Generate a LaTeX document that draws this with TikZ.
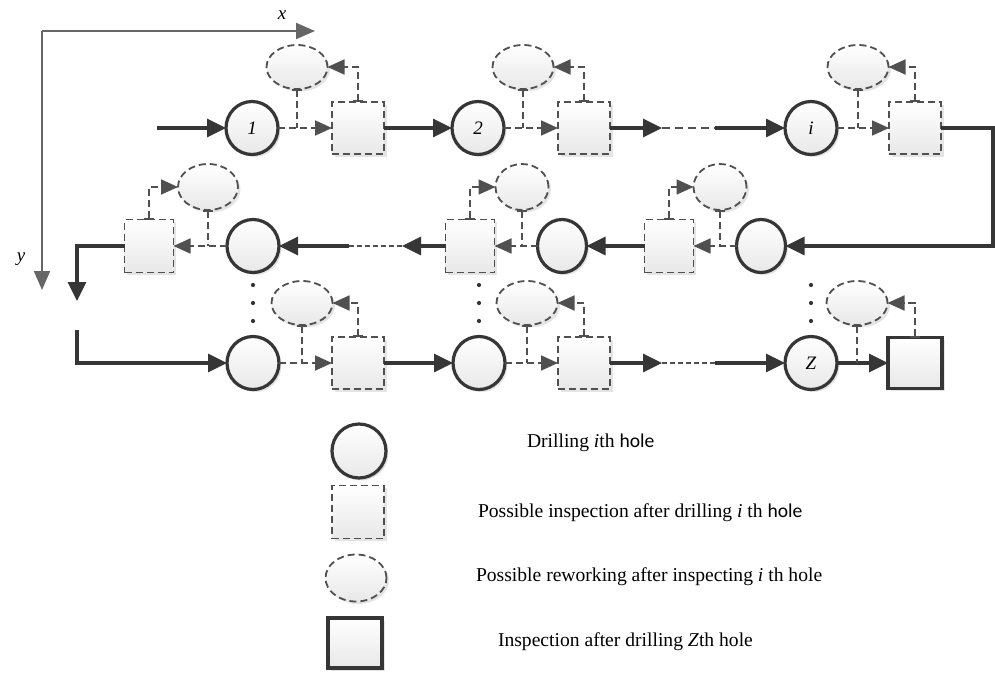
\documentclass[tikz,border=0pt]{standalone}
\usepackage{fontspec}
\setmainfont{Liberation Serif}
\newfontfamily\holefont{Carlito}
\usetikzlibrary{arrows.meta,shapes.geometric,shadows}

\definecolor{ink}{HTML}{363636}
\definecolor{dashink}{HTML}{505050}

\begin{document}
\begin{tikzpicture}[x=1pt,y=-1pt,
  every node/.style={inner sep=0pt,outer sep=0pt},
  fillshade/.style={top color=white,bottom color=black!9,
    drop shadow={shadow xshift=2.5pt,shadow yshift=-2.5pt,opacity=0.3,fill=black!35}},
  dashline/.style={draw=dashink,line width=1.8pt,dash pattern=on 7pt off 4pt},
  drill/.style={ellipse,draw=ink,line width=3.2pt,fillshade,
    minimum width=52pt,minimum height=53pt,font=\fontsize{19}{21}\selectfont\itshape},
  check/.style={rectangle,dashline,fillshade,minimum width=52pt,minimum height=52pt},
  rework/.style={ellipse,dashline,fillshade,minimum width=61pt,minimum height=44pt},
  finalcheck/.style={rectangle,draw=ink,line width=3.4pt,fillshade,
    minimum width=54pt,minimum height=51pt},
  narrow/.style={minimum width=49pt,minimum height=53pt},
  flow/.style={draw=ink,line width=3.2pt,-{Triangle[length=19pt,width=18pt]}},
  checkflow/.style={dashline,-{Triangle[length=17pt,width=15pt]}},
  tie/.style={dashline,{Bar[width=10pt]}-},
  tiearrow/.style={dashline,{Bar[width=10pt]}-{Triangle[length=17pt,width=15pt]}},
  gap/.style={draw=dashink,line width=1.3pt,dash pattern=on 5pt off 3pt},
  axis/.style={draw=black!60,line width=2pt,-{Triangle[length=19pt,width=16pt]}},
  legendtext/.style={anchor=west,font=\fontsize{19.6}{23}\selectfont},
]
\useasboundingbox (0,0) rectangle (995,672);

% coordinate axes
\coordinate (origin) at (42,31);
\coordinate (xend) at (315,31);
\coordinate (yend) at (42,290);
\draw[axis] (origin) -- (xend);
\draw[axis] (origin) -- (yend);
\node[font=\fontsize{19}{21}\selectfont\itshape] (xlab) at (282,15) {x};
\node[font=\fontsize{19}{21}\selectfont\itshape] (ylab) at (21,259) {y};

% ---- first row (left to right)
\node[drill] (c1) at (252,128) {1};
\node[check] (s1) at (358,128) {};
\node[rework] (e1) at (297,67) {};
\node[drill] (c2) at (478,128) {2};
\node[check] (s2) at (584,128) {};
\node[rework] (e2) at (523,67) {};
\node[drill] (ci) at (811,128) {i};
\node[check] (si) at (915,128) {};
\node[rework] (ei) at (858,67) {};

% ---- second row (right to left)
\node[drill,narrow] (d1) at (761,246) {};
\node[check,narrow] (t1) at (669,246) {};
\node[rework,minimum width=53pt,minimum height=46pt] (f1) at (720,187) {};
\node[drill,narrow] (d2) at (562,246) {};
\node[check,narrow] (t2) at (470,246) {};
\node[rework,minimum width=53pt,minimum height=46pt] (f2) at (522,187) {};
\node[drill] (d3) at (253,246) {};
\node[check,narrow] (t3) at (149,246) {};
\node[rework,minimum width=60pt,minimum height=46pt] (f3) at (208,187) {};

% ---- third row (left to right)
\node[drill] (g1) at (253,363) {};
\node[check] (u1) at (358,363) {};
\node[rework] (h1) at (302,303) {};
\node[drill] (g2) at (479,363) {};
\node[check] (u2) at (584,363) {};
\node[rework] (h2) at (527,303) {};
\node[drill] (cz) at (811,363) {Z};
\node[finalcheck] (fin) at (915,363) {};
\node[rework] (h3) at (857,303) {};

% ellipsis dots between the second and third rows
\foreach \dx in {253,479,811}
  \foreach \dy in {285,303,321}
    \fill[ink] (\dx,\dy) circle (2.1);

% helper points
\coordinate (in1) at (157,128);
\coordinate (a1) at (662,128);
\coordinate (b1) at (715,128);
\coordinate (turnA) at (993,128);
\coordinate (turnB) at (993,246);
\coordinate (a2) at (402,246);
\coordinate (b2) at (349,246);
\coordinate (turnC) at (77,246);
\coordinate (down1) at (77,301);
\coordinate (up2) at (77,330);
\coordinate (turnD) at (77,363);
\coordinate (a3) at (662,363);
\coordinate (b3) at (715,363);

% main flow, row 1
\draw[flow] (in1) -- (c1);
\draw[checkflow] (c1) -- (s1);
\draw[flow] (s1) -- (c2);
\draw[checkflow] (c2) -- (s2);
\draw[flow] (s2) -- (a1);
\draw[gap,dash pattern=on 8pt off 5pt,line width=1.7pt] (a1) -- (b1);
\draw[flow] (b1) -- (ci);
\draw[checkflow] (ci) -- (si);
\draw[flow] (si.east) -- (turnA) -- (turnB) -- (d1.east);

% main flow, row 2
\draw[checkflow] (d1) -- (t1);
\draw[flow] (t1) -- (d2);
\draw[checkflow] (d2) -- (t2);
\draw[flow] (t2) -- (a2);
\draw[gap] (a2) -- (b2);
\draw[flow] (b2) -- (d3);
\draw[checkflow] (d3) -- (t3);
\draw[flow] (t3.west) -- (turnC) -- (down1);

% main flow, row 3
\draw[flow] (up2) -- (turnD) -- (g1.west);
\draw[checkflow] (g1) -- (u1);
\draw[flow] (u1) -- (g2);
\draw[checkflow] (g2) -- (u2);
\draw[flow] (u2) -- (a3);
\draw[gap] (a3) -- (b3);
\draw[flow] (b3) -- (cz);
\draw[flow] (cz) -- (fin);

% rework loops
\foreach \e/\c in {e1/c1,e2/c2,ei/ci,f1/d1,f2/d2,f3/d3,h1/g1,h2/g2,h3/cz}
  \draw[tie] (\e.south) -- (\e.south |- \c.center);
\foreach \s/\e in {s1/e1,s2/e2,si/ei,u1/h1,u2/h2,fin/h3}
  \draw[tiearrow] (\s.north) |- (\e.east);
\foreach \s/\e in {t1/f1,t2/f2,t3/f3}
  \draw[tiearrow] (\s.north) |- (\e.west);

% legend
\node[drill,minimum width=54pt,minimum height=54pt] (k1) at (359,451) {};
\node[check,minimum height=53pt] (k2) at (358,512) {};
\node[rework,minimum height=47pt] (k3) at (356,578) {};
\node[finalcheck,minimum height=50pt] (k4) at (355,643) {};
\node[legendtext] (l1) at (527,443) {Drilling \textit{i}th {\holefont hole}};
\node[legendtext] (l2) at (478,513) {Possible inspection after drilling \textit{i} th {\holefont hole}};
\node[legendtext] (l3) at (476,577) {Possible reworking after inspecting \textit{i} th hole};
\node[legendtext] (l4) at (498,642) {Inspection after drilling \textit{Z}th hole};
\end{tikzpicture}
\end{document}
